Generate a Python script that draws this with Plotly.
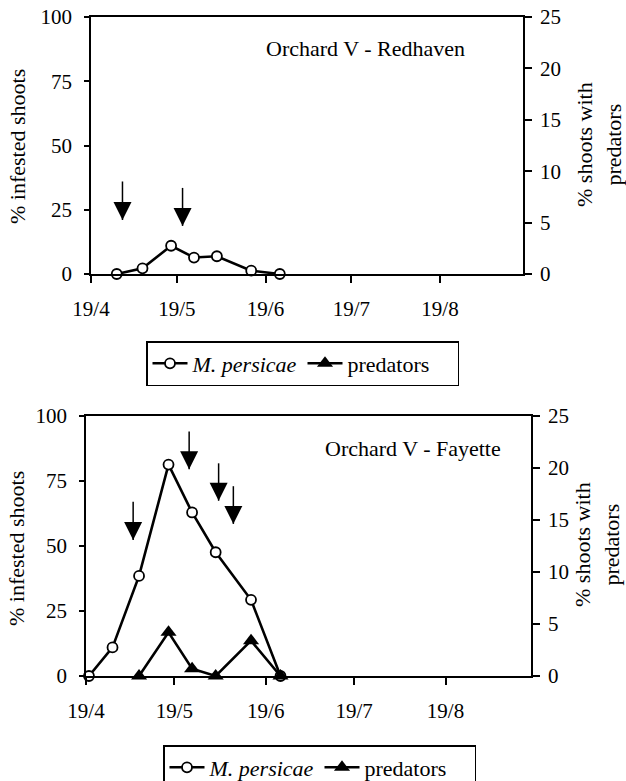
import plotly.graph_objects as go

# ---------------- data ----------------
# Orchard V - Redhaven
red_dates = ["1995-04-28", "1995-05-07", "1995-05-17", "1995-05-25", "1995-06-02", "1995-06-14", "1995-06-24"]
red_persicae = [0, 2.2, 11.0, 6.4, 6.9, 1.3, 0]
red_arrow_dates = ["1995-04-30", "1995-05-21"]
red_arrow_top = [36, 33.5]
red_arrow_tip = [21, 18.7]

# Orchard V - Fayette
fay_dates = ["1995-04-20", "1995-04-28", "1995-05-07", "1995-05-17", "1995-05-25", "1995-06-02", "1995-06-14", "1995-06-24"]
fay_persicae = [0, 11.0, 38.5, 81.3, 62.9, 47.6, 29.3, 0]
fay_pred_dates = ["1995-05-07", "1995-05-17", "1995-05-25", "1995-06-02", "1995-06-14", "1995-06-24"]
fay_predators = [0, 4.2, 0.7, 0, 3.4, 0]
fay_arrow_dates = ["1995-05-05", "1995-05-24", "1995-06-03", "1995-06-08"]
fay_arrow_top = [67, 94, 81.8, 73]
fay_arrow_tip = [52.3, 79.5, 67.4, 58.5]

titles = ["Orchard V - Redhaven", "Orchard V - Fayette"]
left_title = "% infested shoots"
right_title = "% shoots with<br>predators"
x_range = ["1995-04-19", "1995-09-17"]
left_ticks = [0, 25, 50, 75, 100]
right_ticks = [0, 5, 10, 15, 20, 25]

FONT = "Liberation Serif"
W, H = 626, 781

def px(v):
    return v / W

def py(v):
    return 1 - v / H

top_dom_x = [px(91), px(523)]
top_dom_y = [py(274), py(17)]
bot_dom_x = [px(86), px(531)]
bot_dom_y = [py(676), py(416)]

fig = go.Figure()

def arrow_xy(dates, tops, tips):
    xs, ys = [], []
    for d, t, b in zip(dates, tops, tips):
        xs += [d, d, None]
        ys += [t, b, None]
    return xs, ys

def add_panel(xa, ya, ya2, dates, pers, pdates, preds, adates, atop, atip, legend):
    fig.add_trace(go.Scatter(
        x=dates, y=pers, xaxis=xa, yaxis=ya, mode="lines+markers",
        name="<i>M. persicae</i>", legend=legend,
        line=dict(color="black", width=2.6),
        marker=dict(symbol="circle", size=10, color="white", line=dict(color="black", width=1.8)),
        cliponaxis=False))
    fig.add_trace(go.Scatter(
        x=pdates, y=preds, xaxis=xa, yaxis=ya2, mode="lines+markers",
        name="predators", legend=legend,
        line=dict(color="black", width=2.6),
        marker=dict(symbol="triangle-up", size=14, color="black"),
        cliponaxis=False))
    ax, ay = arrow_xy(adates, atop, atip)
    fig.add_trace(go.Scatter(
        x=ax, y=ay, xaxis=xa, yaxis=ya, mode="lines", showlegend=False,
        line=dict(color="black", width=1.5), hoverinfo="skip"))
    fig.add_trace(go.Scatter(
        x=adates, y=atip, xaxis=xa, yaxis=ya, mode="markers", showlegend=False,
        marker=dict(symbol="arrow-down", size=18, color="black"), hoverinfo="skip",
        cliponaxis=False))

add_panel("x", "y", "y2", red_dates, red_persicae, [None], [None],
          red_arrow_dates, red_arrow_top, red_arrow_tip, "legend")
add_panel("x2", "y3", "y4", fay_dates, fay_persicae, fay_pred_dates, fay_predators,
          fay_arrow_dates, fay_arrow_top, fay_arrow_tip, "legend2")

tickfont = dict(family=FONT, size=21, color="black")
common = dict(showgrid=False, zeroline=False, linecolor="black", linewidth=1.5,
              tickcolor="black", tickwidth=1.5, tickfont=tickfont, automargin=False)

def xaxis_main(dom, anchor):
    return dict(common, domain=dom, anchor=anchor, type="date", range=x_range,
                tick0=x_range[0], dtick="M1", tickformat="%-d/%-m",
                ticks="outside", ticklen=7, showline=True, mirror=True,
                ticklabelstandoff=8)

def xaxis_in(over, anchor):
    return dict(common, overlaying=over, anchor=anchor, type="date", range=x_range,
                tick0=x_range[0], dtick="M1", ticks="inside", ticklen=7,
                showticklabels=False, showline=False)

def yleft(dom, anchor):
    return dict(common, domain=dom, anchor=anchor, range=[0, 100], tickvals=left_ticks,
                ticks="outside", ticklen=5, showline=True, ticklabelstandoff=8)

def yright(over, anchor):
    return dict(common, overlaying=over, side="right", anchor=anchor, range=[0, 25],
                tickvals=right_ticks, ticks="outside", ticklen=7, showline=True,
                ticklabelstandoff=4)

def yin(over, anchor, side, rng, vals, ln):
    return dict(common, overlaying=over, side=side, anchor=anchor, range=rng,
                tickvals=vals, ticks="inside", ticklen=ln, showticklabels=False,
                showline=False)

legend_common = dict(orientation="h", xanchor="left", yanchor="top",
                     bordercolor="black", borderwidth=1.5, bgcolor="white",
                     itemwidth=35, entrywidth=105, entrywidthmode="pixels",
                     font=dict(family=FONT, size=22, color="black"))

fig.update_layout(
    width=W, height=H, margin=dict(l=0, r=0, t=0, b=0, pad=0, autoexpand=False),
    paper_bgcolor="white", plot_bgcolor="white",
    font=dict(family=FONT, color="black"),
    xaxis=xaxis_main(top_dom_x, "y"),
    yaxis=yleft(top_dom_y, "x"),
    yaxis2=yright("y", "x"),
    xaxis3=xaxis_in("x", "y"),
    yaxis5=yin("y", "x", "left", [0, 100], left_ticks, 8),
    yaxis6=yin("y", "x", "right", [0, 25], right_ticks, 7),
    xaxis2=xaxis_main(bot_dom_x, "y3"),
    yaxis3=yleft(bot_dom_y, "x2"),
    yaxis4=yright("y3", "x2"),
    xaxis4=xaxis_in("x2", "y3"),
    yaxis7=yin("y3", "x2", "left", [0, 100], left_ticks, 8),
    yaxis8=yin("y3", "x2", "right", [0, 25], right_ticks, 7),
    legend=dict(legend_common, x=px(146), y=py(341)),
    legend2=dict(legend_common, x=px(163), y=py(745)),
    showlegend=True,
)

ann_font = dict(family=FONT, size=22, color="black")
annotations = [
    dict(text=titles[0], x=px(467), y=py(49), xanchor="right", yanchor="middle"),
    dict(text=titles[1], x=px(503), y=py(449), xanchor="right", yanchor="middle"),
    dict(text=left_title, x=px(18), y=py(147), textangle=-90),
    dict(text=right_title, x=px(599), y=py(145), textangle=-90),
    dict(text=left_title, x=px(16), y=py(549), textangle=-90),
    dict(text=right_title, x=px(597), y=py(545), textangle=-90),
]
for a in annotations:
    a.update(xref="paper", yref="paper", showarrow=False, font=ann_font)
    a.setdefault("xanchor", "center")
    a.setdefault("yanchor", "middle")
fig.update_layout(annotations=annotations)

fig.write_html("out.html")
